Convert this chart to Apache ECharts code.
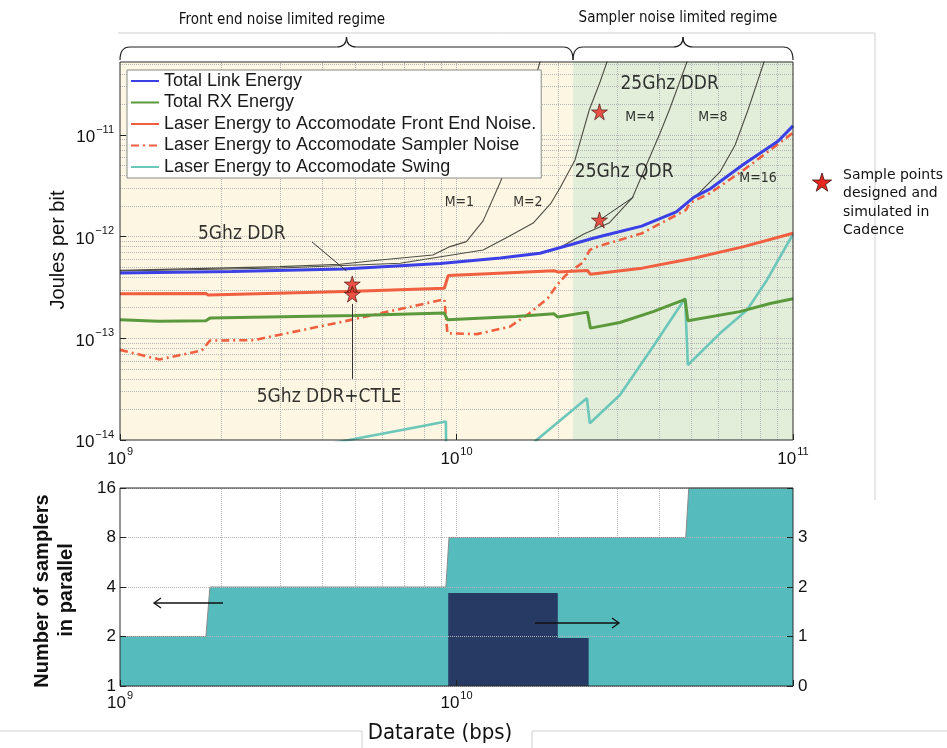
<!DOCTYPE html>
<html><head><meta charset="utf-8">
<script src="https://cdn.jsdelivr.net/npm/echarts@6/dist/echarts.min.js"></script>
<style>html,body{margin:0;padding:0;background:#fff}#c{width:947px;height:748px}</style>
</head><body><div id="c"></div>
<script>
// ---------- data ----------
const xRange = [1e9, 1e11];
const energyRange = [1e-14, 5.22e-11];
const regimeBoundary = 2.22e10;

const totalLinkEnergy = [[1e9,4.40e-13],[2.15e9,4.55e-13],[4.6e9,4.81e-13],[8.95e9,5.45e-13],[1.35e10,6.18e-13],[1.77e10,6.87e-13],[2.22e10,8.47e-13],[2.53e10,9.6e-13],[2.86e10,1.06e-12],[3.55e10,1.27e-12],[4.5e10,1.75e-12],[5.07e10,2.43e-12],[5.69e10,2.97e-12],[7.15e10,5.19e-12],[9.04e10,8.73e-12],[1e11,1.23e-11]];
const totalRxEnergy = [[1e9,1.52e-13],[1.3e9,1.47e-13],[1.8e9,1.49e-13],[1.85e9,1.58e-13],[5e9,1.68e-13],[9.2e9,1.77e-13],[9.4e9,1.52e-13],[1.5e10,1.64e-13],[1.95e10,1.74e-13],[2.0e10,1.62e-13],[2.45e10,1.81e-13],[2.5e10,1.26e-13],[3.06e10,1.43e-13],[3.84e10,1.83e-13],[4.78e10,2.42e-13],[4.87e10,1.49e-13],[6.95e10,1.83e-13],[8.55e10,2.2e-13],[1e11,2.45e-13]];
const laserFrontEnd = [[1e9,2.74e-13],[1.8e9,2.76e-13],[1.83e9,2.66e-13],[5e9,2.9e-13],[9.2e9,3.11e-13],[9.45e9,4.15e-13],[1.5e10,4.45e-13],[1.95e10,4.62e-13],[2.0e10,4.5e-13],[2.45e10,4.65e-13],[2.5e10,4.27e-13],[3.56e10,4.9e-13],[5.07e10,6.14e-13],[7.14e10,7.98e-13],[1e11,1.08e-12]];
const laserSampler = [[1e9,7.7e-14],[1.31e9,6.2e-14],[1.75e9,7.6e-14],[1.85e9,9.5e-14],[2.5e9,9.6e-14],[4.6e9,1.46e-13],[9.2e9,2.42e-13],[9.4e9,1.12e-13],[1.15e10,1.1e-13],[1.44e10,1.3e-13],[1.65e10,1.77e-13],[1.87e10,2.49e-13],[1.99e10,3.35e-13],[2.1e10,4.1e-13],[2.25e10,4.9e-13],[2.38e10,5.6e-13],[2.49e10,7.4e-13],[2.63e10,8.0e-13],[3.56e10,1.08e-12],[4.81e10,1.83e-12],[4.94e10,2.14e-12],[5.66e10,2.67e-12],[7.14e10,4.53e-12],[1e11,1.05e-11]];
const laserSwing = [[4.2e9,9.2e-15],[7.8e9,1.36e-14],[9.3e9,1.52e-14],[9.35e9,1.6e-15],[1.73e10,1e-14],[2.44e10,2.58e-14],[2.49e10,1.46e-14],[3.06e10,2.77e-14],[3.84e10,8.3e-14],[4.78e10,2.48e-13],[4.87e10,5.47e-14],[6.07e10,1.12e-13],[7.3e10,1.9e-13],[8.37e10,3.75e-13],[1e11,1.06e-12]];

const curveM1 = [[1e9,4.66e-13],[2.99e9,5.07e-13],[4.51e9,5.36e-13],[5.93e9,5.9e-13],[8.5e9,6.6e-13],[9.57e9,7.98e-13],[1.07e10,8.93e-13],[1.2e10,1.43e-12],[1.35e10,3.45e-12],[1.55e10,1.12e-11],[1.77e10,5.22e-11],[1.82e10,8e-11]];
const curveM2 = [[1e9,4.6e-13],[2.99e9,4.92e-13],[6.8e9,5.47e-13],[1.2e10,7.4e-13],[1.42e10,9.93e-13],[1.69e10,1.36e-12],[1.91e10,2.14e-12],[2.03e10,3.01e-12],[2.25e10,5.68e-12],[2.48e10,1.76e-11],[2.67e10,3.32e-11],[2.8e10,5.22e-11],[2.85e10,8e-11]];
const curveM4 = [[2.03e10,7.83e-13],[2.39e10,1.06e-12],[2.84e10,1.36e-12],[3.33e10,2.4e-12],[4.03e10,1.05e-11],[4.29e10,1.76e-11],[4.84e10,5.22e-11],[4.95e10,8e-11]];
const curveM8 = [[4.61e10,1.87e-12],[5.3e10,2.75e-12],[6.07e10,4.33e-12],[6.73e10,7.97e-12],[7.35e10,1.76e-11],[8.2e10,5.22e-11],[8.4e10,8e-11]];

const samplePoints = [[4.9e9,3.43e-13],[4.9e9,2.72e-13],[2.66e10,1.69e-11],[2.66e10,1.46e-12]];
const leaderLines = [
  [[3.72e9,8.87e-13],[4.71e9,4.6e-13]],
  [[4.9e9,2.18e-13],[4.9e9,3.99e-14]],
  [[2.7e10,1.5e-12],[3.36e10,2.46e-12]]
];
const annotationText = ['5Ghz DDR','5Ghz DDR+CTLE','25Ghz DDR','25Ghz QDR','M=1','M=2','M=4','M=8','M=16'];
const annotationAt = [[2.3e9,1.06e-12],[4.18e9,2.65e-14],[4.3e10,3.17e-11],[3.15e10,4.33e-12],[1.02e10,2.19e-12],[1.63e10,2.19e-12],[3.51e10,1.5e-11],[5.78e10,1.5e-11],[7.87e10,3.77e-12]];

// bottom panel
const samplerCount = [[1e9,2],[1.8e9,2],[1.85e9,4],[9.3e9,4],[9.5e9,8],[4.8e10,8],[4.9e10,16],[1e11,16]];
const rightAxisSteps = [[9.45e9,1.88],[2.0e10,1.88],[2.0e10,0.97],[2.47e10,0.97]];

// ---------- helpers ----------
function powerLabel(v) {
  const e = Math.log10(v), r = Math.round(e);
  if (Math.abs(e - r) > 1e-6) return '';
  return '{b|10}{s|' + (r < 0 ? '\u2212' + (-r) : r) + '}';
}
const richLabel = {
  b: {fontSize: 17, fontFamily: 'Liberation Sans', color: '#111', lineHeight: 22, verticalAlign: 'bottom'},
  s: {fontSize: 11, fontFamily: 'Liberation Sans', color: '#111', lineHeight: 22, verticalAlign: 'top', padding: [0,0,0,1]}
};
function gridValues(lo, hi) {
  const out = [];
  const d0 = Math.floor(Math.log10(lo)), d1 = Math.ceil(Math.log10(hi));
  for (let d = d0; d <= d1; d++) for (let k = 1; k <= 9; k++) {
    const v = k * Math.pow(10, d);
    if (v > lo * 1.0001 && v < hi * 0.9999) out.push(v);
  }
  return out;
}
const dotted = {color: '#b5b5b5', type: 'dotted', width: 1, opacity: 1};

const topGridCoords = gridValues(xRange[0], xRange[1]).map(v => ({coords: [[v, energyRange[0]], [v, energyRange[1]]]}))
  .concat(gridValues(energyRange[0], energyRange[1]).map(v => ({coords: [[xRange[0], v], [xRange[1], v]]})));
const bottomGridCoords = gridValues(xRange[0], xRange[1]).map(v => ({coords: [[v, 1], [v, 16]]}));

const noteFont = '"DejaVu Sans Condensed", "Open Sans", sans-serif';

const chart = echarts.init(document.getElementById('c'), null, {renderer: 'canvas'});
const lineBase = {type: 'line', xAxisIndex: 0, yAxisIndex: 0, symbol: 'none', showSymbol: false, z: 3, animation: false};
const tick = {show: true, inside: true, length: 6, lineStyle: {color: '#222'}};

const option = {
  animation: false,
  backgroundColor: '#fff',
  grid: [
    {left: 120, top: 62, width: 673, height: 378},
    {left: 120, top: 488, width: 673, height: 198}
  ],
  xAxis: [
    {gridIndex: 0, type: 'log', min: xRange[0], max: xRange[1], interval: 1, z: 6,
     axisLine: {show: false}, splitLine: {show: false}, axisTick: tick,
     axisLabel: {formatter: powerLabel, rich: richLabel, margin: 6, showMinLabel: true, showMaxLabel: true}},
    {gridIndex: 1, type: 'log', min: xRange[0], max: xRange[1], interval: 1, z: 6,
     axisLine: {show: false}, splitLine: {show: false}, axisTick: tick,
     axisLabel: {formatter: v => (v > 5e10 ? '' : powerLabel(v)), rich: richLabel, margin: 4, showMinLabel: true}}
  ],
  yAxis: [
    {gridIndex: 0, type: 'log', min: energyRange[0], max: energyRange[1], interval: 1, z: 6,
     axisLine: {show: false}, splitLine: {show: false}, axisTick: tick,
     axisLabel: {formatter: powerLabel, rich: richLabel, margin: 6, showMaxLabel: false}},
    {gridIndex: 1, type: 'log', logBase: 2, min: 1, max: 16, interval: 1, z: 6,
     axisLine: {show: false}, splitLine: {show: true, lineStyle: dotted}, axisTick: tick,
     axisLabel: {formatter: v => String(Math.round(v)), fontSize: 17, fontFamily: 'Liberation Sans', color: '#111', margin: 4}},
    {gridIndex: 1, type: 'value', position: 'right', min: 0, max: 4, interval: 1, z: 6,
     axisLine: {show: false}, splitLine: {show: false}, axisTick: tick,
     axisLabel: {formatter: v => (v >= 4 ? '' : String(v)), fontSize: 17, fontFamily: 'Liberation Sans', color: '#111', margin: 5}}
  ],
  legend: {
    show: true, orient: 'vertical', left: 127, top: 70,
    data: ['Total Link Energy','Total RX Energy','Laser Energy to Accomodate Front End Noise.','Laser Energy to Accomodate Sampler Noise','Laser Energy to Accomodate Swing'],
    backgroundColor: '#fff', borderColor: '#8a8a8a', borderWidth: 1, borderRadius: 0,
    padding: [2, 5, 2, 3], itemGap: 3.5, itemWidth: 28, itemHeight: 16,
    itemStyle: {opacity: 0},
    textStyle: {fontSize: 18, lineHeight: 18, fontFamily: 'Liberation Sans', color: '#1a1a1a'},
    selectedMode: false, z: 20
  },
  series: [
    {type: 'line', name: 'bg', xAxisIndex: 0, yAxisIndex: 0, data: [], z: 0, silent: true,
     markArea: {silent: true, animation: false, z: 0, data: [
       [{xAxis: xRange[0], itemStyle: {color: '#fcf6e2'}}, {xAxis: regimeBoundary}],
       [{xAxis: regimeBoundary, itemStyle: {color: '#e2eeda'}}, {xAxis: xRange[1]}]
     ]}},
    {type: 'lines', name: 'gridTop', coordinateSystem: 'cartesian2d', xAxisIndex: 0, yAxisIndex: 0, z: 1, silent: true,
     lineStyle: dotted, data: topGridCoords},
    Object.assign({}, lineBase, {name: 'Laser Energy to Accomodate Swing', data: laserSwing, color: '#6cc7ba', lineStyle: {color: '#6cc7ba', width: 2.6}}),
    Object.assign({}, lineBase, {name: 'Laser Energy to Accomodate Sampler Noise', data: laserSampler, color: '#ef5f40', lineStyle: {color: '#ef5f40', width: 2.6, type: [8, 4, 2, 4]}}),
    Object.assign({}, lineBase, {name: 'Laser Energy to Accomodate Front End Noise.', data: laserFrontEnd, color: '#ef5f40', lineStyle: {color: '#ef5f40', width: 3}}),
    Object.assign({}, lineBase, {name: 'Total RX Energy', data: totalRxEnergy, color: '#5b9a3c', lineStyle: {color: '#5b9a3c', width: 3}}),
    Object.assign({}, lineBase, {name: 'M=1', data: curveM1, lineStyle: {color: '#4e4e44', width: 1.1}}),
    Object.assign({}, lineBase, {name: 'M=2', data: curveM2, lineStyle: {color: '#4e4e44', width: 1.1}}),
    Object.assign({}, lineBase, {name: 'M=4', data: curveM4, lineStyle: {color: '#4e4e44', width: 1.1}}),
    Object.assign({}, lineBase, {name: 'M=8', data: curveM8, lineStyle: {color: '#4e4e44', width: 1.1}}),
    Object.assign({}, lineBase, {name: 'Total Link Energy', data: totalLinkEnergy, color: '#3b40e6', lineStyle: {color: '#3b40e6', width: 3}}),
    {type: 'lines', name: 'leaders', coordinateSystem: 'cartesian2d', xAxisIndex: 0, yAxisIndex: 0, z: 4, silent: true,
     lineStyle: {color: '#333', width: 1, opacity: 1},
     data: leaderLines.map(c => ({coords: c}))},
    {type: 'scatter', name: 'samples', xAxisIndex: 0, yAxisIndex: 0, z: 5, silent: true,
     symbol: 'path://M50,0 L61,35 L98,35 L68,57 L79,91 L50,70 L21,91 L32,57 L2,35 L39,35 Z',
     symbolSize: 16, itemStyle: {color: '#e8281f', borderColor: '#3a1010', borderWidth: 0.8},
     data: samplePoints},
    {type: 'scatter', name: 'notes', xAxisIndex: 0, yAxisIndex: 0, z: 6, silent: true, symbolSize: 0,
     data: annotationAt.map((p, i) => ({value: p, name: annotationText[i],
       label: {fontSize: annotationText[i].startsWith('M=') ? 14 : 19}})),
     label: {show: true, position: 'inside', formatter: '{b}', color: '#000', fontFamily: noteFont}},
    // bottom panel
    {type: 'lines', name: 'gridBottom', coordinateSystem: 'cartesian2d', xAxisIndex: 1, yAxisIndex: 1, z: 1, silent: true,
     lineStyle: dotted, data: bottomGridCoords},
    {type: 'line', name: 'samplers', xAxisIndex: 1, yAxisIndex: 1, data: samplerCount, symbol: 'none', z: 2, animation: false,
     lineStyle: {color: '#8a8a8a', width: 1}, areaStyle: {color: '#55bbbd', opacity: 1, origin: 'start'}},
    {type: 'line', name: 'rightSteps', xAxisIndex: 1, yAxisIndex: 2, data: rightAxisSteps, symbol: 'none', z: 3, animation: false,
     lineStyle: {width: 0}, areaStyle: {color: '#263a63', opacity: 1, origin: 'start'}}
  ]
};
chart.setOption(option);

// ---------- decorations positioned through the axes ----------
const px = (v) => chart.convertToPixel({xAxisIndex: 0}, v);
const xL = px(xRange[0]), xB = px(regimeBoundary), xR = px(xRange[1]);
const topTL = chart.convertToPixel({xAxisIndex: 0, yAxisIndex: 0}, [xRange[0], energyRange[1]]);
const topBR = chart.convertToPixel({xAxisIndex: 0, yAxisIndex: 0}, [xRange[1], energyRange[0]]);
const botTL = chart.convertToPixel({xAxisIndex: 1, yAxisIndex: 1}, [xRange[0], 16]);
const botBR = chart.convertToPixel({xAxisIndex: 1, yAxisIndex: 1}, [xRange[1], 1]);

const braceStyle = {fill: null, stroke: '#222', lineWidth: 1.2};
function brace(x0, x1, yb) {
  const m = (x0 + x1) / 2, r = 10, h = 13, t = 10;
  const q = (a, b, c, d, e, f) => ({type: 'bezierCurve', z: 26, silent: true, shape: {x1: a, y1: b, cpx1: c, cpy1: d, x2: e, y2: f}, style: braceStyle});
  const l = (a, b, c, d) => ({type: 'line', z: 26, silent: true, shape: {x1: a, y1: b, x2: c, y2: d}, style: braceStyle});
  return [
    q(x0, yb + h, x0, yb, x0 + r, yb),
    l(x0 + r, yb, m - r, yb),
    q(m - r, yb, m, yb, m, yb - t),
    q(m, yb - t, m, yb, m + r, yb),
    l(m + r, yb, x1 - r, yb),
    q(x1 - r, yb, x1, yb, x1, yb + h)
  ];
}
const starUnit = [[50,0],[61,35],[98,35],[68,57],[79,91],[50,70],[21,91],[32,57],[2,35],[39,35]];
const sideStar = starUnit.map(p => [812 + p[0] * 0.2, 173 + p[1] * 0.2]);

function txt(x, y, text, font, opts) {
  return Object.assign({type: 'text', x: x, y: y, z: 30, silent: true,
    style: Object.assign({text: text, font: font, fill: '#111', textAlign: 'center', textVerticalAlign: 'middle', align: 'center', verticalAlign: 'middle'}, (opts && opts.style) || {})},
    opts && opts.el ? opts.el : {});
}
const leftAlign = {style: {textAlign: 'left', align: 'left'}};

chart.setOption({graphic: [].concat(
  [
    {type: 'line', z: 1, silent: true, shape: {x1: 118, y1: 33, x2: 875, y2: 33}, style: {stroke: '#cfcfcf', lineWidth: 1}},
    {type: 'line', z: 1, silent: true, shape: {x1: 875, y1: 33, x2: 875, y2: 500}, style: {stroke: '#cfcfcf', lineWidth: 1}},
    {type: 'polyline', z: 1, silent: true, shape: {points: [[0,731],[362,731],[362,748]]}, style: {stroke: '#cfcfcf', lineWidth: 1, fill: null}},
    {type: 'polyline', z: 1, silent: true, shape: {points: [[532,748],[532,731],[947,731]]}, style: {stroke: '#cfcfcf', lineWidth: 1, fill: null}},
    {type: 'rect', z: 25, silent: true, shape: {x: topTL[0], y: topTL[1], width: topBR[0] - topTL[0], height: topBR[1] - topTL[1]}, style: {fill: null, stroke: '#2a2a2a', lineWidth: 1}},
    {type: 'rect', z: 25, silent: true, shape: {x: botTL[0], y: botTL[1], width: botBR[0] - botTL[0], height: botBR[1] - botTL[1]}, style: {fill: null, stroke: '#2a2a2a', lineWidth: 1}}
  ],
  brace(xL, xB, 47),
  brace(xB, xR, 47),
  [
    txt(282, 20, 'Front end noise limited regime', '15px ' + noteFont),
    txt(678, 18, 'Sampler noise limited regime', '15px ' + noteFont),
    {type: 'polygon', z: 26, silent: true, shape: {points: sideStar}, style: {fill: '#e8281f', stroke: '#3a1010', lineWidth: 0.8}},
    txt(843, 175, 'Sample points', '14px "DejaVu Sans"', leftAlign),
    txt(843, 193, 'designed and', '14px "DejaVu Sans"', leftAlign),
    txt(843, 212, 'simulated in', '14px "DejaVu Sans"', leftAlign),
    txt(843, 230, 'Cadence', '14px "DejaVu Sans"', leftAlign),
    txt(0, 0, 'Joules per bit', '20px "Liberation Sans"', {el: {x: 58, y: 250, rotation: Math.PI / 2}}),
    txt(0, 0, 'Number of samplers', 'bold 20px "Liberation Sans"', {el: {x: 42, y: 591, rotation: Math.PI / 2}}),
    txt(0, 0, 'in parallel', 'bold 20px "Liberation Sans"', {el: {x: 66, y: 590, rotation: Math.PI / 2}}),
    txt(440, 733, 'Datarate (bps)', '22px ' + noteFont),
    {type: 'line', z: 26, silent: true, shape: {x1: 223, y1: 603, x2: 154, y2: 603}, style: {stroke: '#111', lineWidth: 1.3}},
    {type: 'polyline', z: 26, silent: true, shape: {points: [[161,598],[154,603],[161,608]]}, style: {stroke: '#111', lineWidth: 1.3, fill: null}},
    {type: 'line', z: 26, silent: true, shape: {x1: 535, y1: 623, x2: 619, y2: 623}, style: {stroke: '#111', lineWidth: 1.3}},
    {type: 'polyline', z: 26, silent: true, shape: {points: [[612,618],[619,623],[612,628]]}, style: {stroke: '#111', lineWidth: 1.3, fill: null}}
  ]
)});
</script>
</body></html>
